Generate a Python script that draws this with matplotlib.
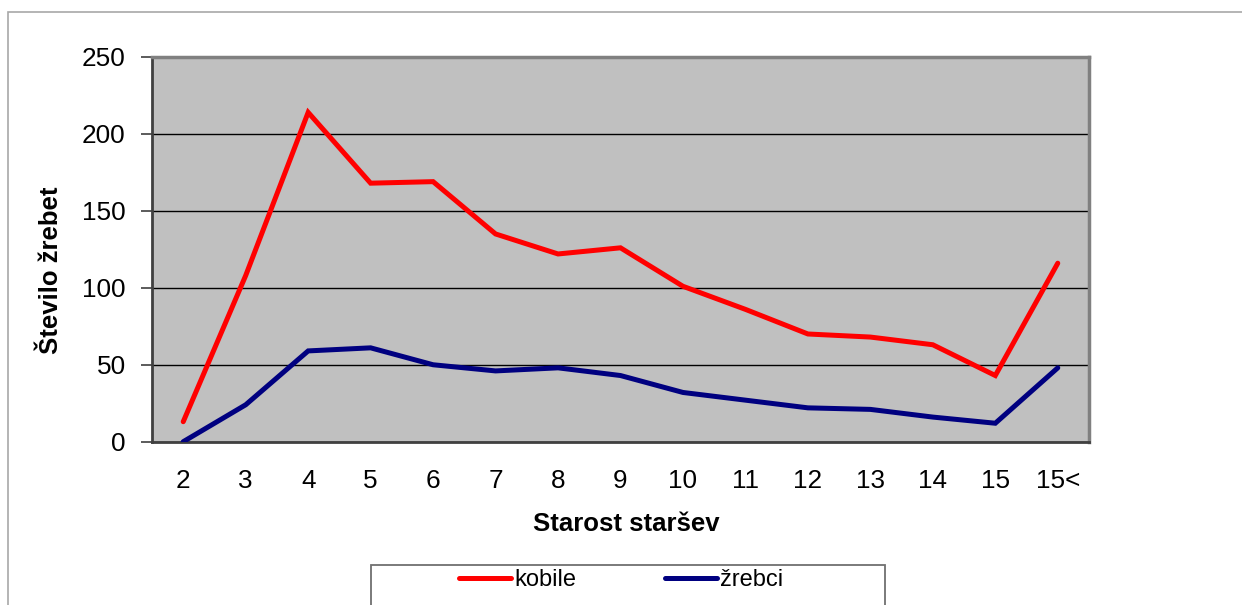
import matplotlib
matplotlib.use("Agg")
import matplotlib.pyplot as plt
from matplotlib.patches import Rectangle

plt.rcParams['font.family'] = ['Liberation Sans', 'DejaVu Sans']

categories = ['2', '3', '4', '5', '6', '7', '8', '9', '10', '11', '12', '13', '14', '15', '15<']
kobile = [13, 108, 214, 168, 169, 135, 122, 126, 101, 86, 70, 68, 63, 43, 116]
zrebci = [0, 24, 59, 61, 50, 46, 48, 43, 32, 27, 22, 21, 16, 12, 48]
y_ticks = [0, 50, 100, 150, 200, 250]

W, H = 1242, 605
fig = plt.figure(figsize=(W / 100, H / 100), dpi=100)

def fx(px):
    return px / W

def fy(py):
    return 1 - py / H

# outer chart frame
fig.add_artist(Rectangle((fx(8), fy(700)), fx(1300), fy(12) - fy(700), transform=fig.transFigure,
                         fill=False, edgecolor='#a8a8a8', linewidth=1.2))

left, right, top, bottom = 152, 1089, 57, 441.7
ax = fig.add_axes([fx(left), fy(bottom), fx(right - left), fy(top) - fy(bottom)])
ax.set_facecolor('#c0c0c0')

x = list(range(len(categories)))
l1, = ax.plot(x, kobile, color='#ff0000', linewidth=3.6, solid_capstyle='round', solid_joinstyle='miter', label='kobile', zorder=3)
l2, = ax.plot(x, zrebci, color='#000080', linewidth=3.6, solid_capstyle='round', solid_joinstyle='miter', label='žrebci', zorder=3)

ax.set_xlim(-0.5, len(categories) - 0.5)
ax.set_ylim(0, 250)
ax.set_yticks(y_ticks)
ax.set_xticks(x)
ax.set_xticklabels(categories)
ax.yaxis.grid(True, color='black', linewidth=1.0)
ax.set_axisbelow(True)

ax.tick_params(axis='y', direction='out', length=8, width=1.2, color='#404040', labelsize=18.8, pad=11)
ax.tick_params(axis='x', length=0, labelsize=18.8, pad=20)

for s in ['top', 'right']:
    ax.spines[s].set_color('#808080')
    ax.spines[s].set_linewidth(2.5)
for s in ['left', 'bottom']:
    ax.spines[s].set_color('#404040')
    ax.spines[s].set_linewidth(2)

ax.set_xlabel('Starost staršev', fontsize=18.5, fontweight='bold', va='center')
ax.xaxis.set_label_coords((626 - left) / (right - left), (bottom - 524) / (bottom - top))
ax.set_ylabel('Število žrebet', fontsize=18.5, fontweight='bold', va='center')
ax.yaxis.set_label_coords((51 - left) / (right - left), (bottom - 270) / (bottom - top))

# legend frame
fig.add_artist(Rectangle((fx(371), fy(700)), fx(885 - 371), fy(565) - fy(700), transform=fig.transFigure,
                         fill=True, facecolor='white', edgecolor='#707070', linewidth=1.3))
leg = fig.legend(handles=[l1, l2], loc='center left', bbox_to_anchor=(fx(447), fy(580)),
                 ncol=2, frameon=False, fontsize=17, handlelength=2.2, handletextpad=0.15,
                 columnspacing=3.75, borderpad=0)

fig.savefig('out.png', dpi=100)
